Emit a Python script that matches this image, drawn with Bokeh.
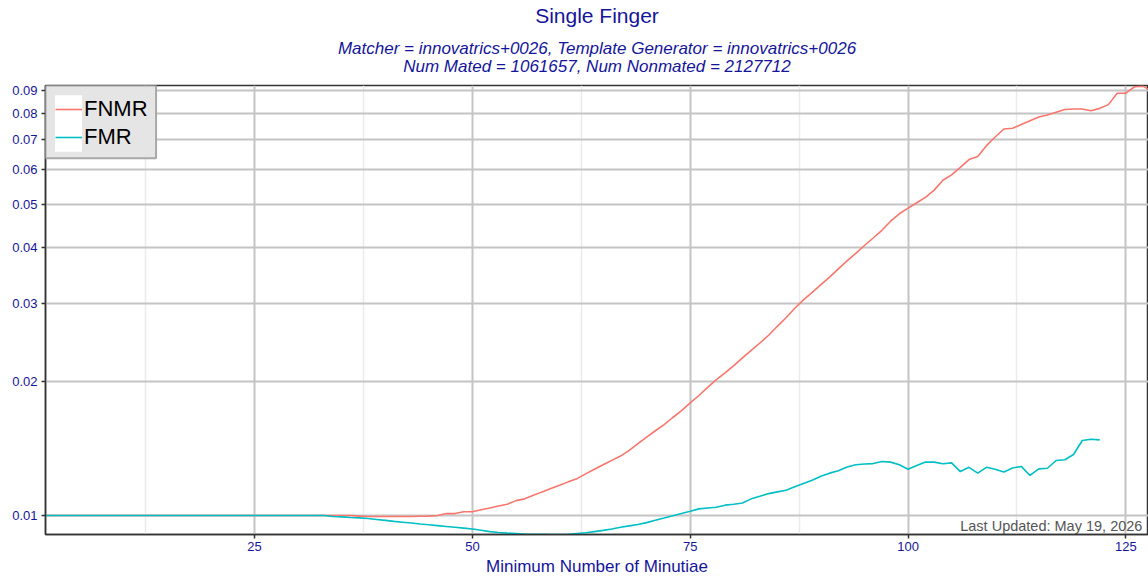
from bokeh.plotting import figure
from bokeh.models import (Range1d, FixedTicker, PrintfTickFormatter, Title, Legend, LegendItem,
                          Label, BoxAnnotation)
from bokeh.embed import file_html
from bokeh.resources import INLINE

# ---------------- data ----------------
min_minutiae = list(range(1, 129))
fnmr = [
    0.0100, 0.0100, 0.0100, 0.0100, 0.0100, 0.0100, 0.0100, 0.0100, 0.0100, 0.0100,
    0.0100, 0.0100, 0.0100, 0.0100, 0.0100, 0.0100, 0.0100, 0.0100, 0.0100, 0.0100,
    0.0100, 0.0100, 0.0100, 0.0100, 0.0100, 0.0100, 0.0100, 0.0100, 0.0100, 0.0100,
    0.0100, 0.0100, 0.0100, 0.0100, 0.0100, 0.0100, 0.00997, 0.00995, 0.00995, 0.00995,
    0.00995, 0.00995, 0.00995, 0.00996, 0.00997, 0.0100, 0.0101, 0.0101, 0.0102, 0.0102,
    0.0103, 0.0104, 0.0105, 0.0106, 0.0108, 0.0109, 0.0111, 0.0113, 0.0115, 0.0117,
    0.0119, 0.0121, 0.0124, 0.0127, 0.0130, 0.0133, 0.0136, 0.0140, 0.0145, 0.0150,
    0.0155, 0.0160, 0.0166, 0.0172, 0.0179, 0.0186, 0.0194, 0.0202, 0.0209, 0.0217,
    0.0226, 0.0235, 0.0244, 0.0254, 0.0266, 0.0278, 0.0292, 0.0305, 0.0317, 0.0330,
    0.0343, 0.0358, 0.0373, 0.0388, 0.0404, 0.0420, 0.0437, 0.0458, 0.0476, 0.0490,
    0.0504, 0.0518, 0.0538, 0.0566, 0.0582, 0.0605, 0.0630, 0.0640, 0.0677, 0.0708,
    0.0738, 0.0741, 0.0755, 0.0770, 0.0785, 0.0793, 0.0805, 0.0816, 0.0818, 0.0818,
    0.0811, 0.0821, 0.0837, 0.0888, 0.0888, 0.0918, 0.0921, 0.0895,
]
fmr_minutiae = list(range(1, 123))
fmr = [
    0.0100, 0.0100, 0.0100, 0.0100, 0.0100, 0.0100, 0.0100, 0.0100, 0.0100, 0.0100,
    0.0100, 0.0100, 0.0100, 0.0100, 0.0100, 0.0100, 0.0100, 0.0100, 0.0100, 0.0100,
    0.0100, 0.0100, 0.0100, 0.0100, 0.0100, 0.0100, 0.0100, 0.0100, 0.0100, 0.0100,
    0.0100, 0.0100, 0.0100, 0.00995, 0.00993, 0.0099, 0.00988, 0.00985, 0.0098, 0.00975,
    0.0097, 0.00966, 0.00962, 0.00957, 0.00953, 0.00949, 0.00945, 0.00941, 0.00937, 0.00933,
    0.00927, 0.0092, 0.00916, 0.00913, 0.00911, 0.00909, 0.00908, 0.00907, 0.00906, 0.00906,
    0.00907, 0.00911, 0.00915, 0.0092, 0.00926, 0.00933, 0.00941, 0.00948, 0.00955, 0.00964,
    0.00976, 0.00987, 0.00999, 0.0101, 0.01022, 0.01035, 0.0104, 0.01044, 0.01055, 0.0106,
    0.01067, 0.0109, 0.01105, 0.0112, 0.0113, 0.0114, 0.0116, 0.0118, 0.0120, 0.01225,
    0.01245, 0.0126, 0.01285, 0.0130, 0.01305, 0.01308, 0.01322, 0.01318, 0.0130, 0.0127,
    0.01295, 0.01318, 0.01318, 0.01307, 0.01313, 0.01255, 0.01283, 0.01245, 0.01283, 0.0127,
    0.01253, 0.01279, 0.01289, 0.0123, 0.01273, 0.01277, 0.01329, 0.01334, 0.01371, 0.01474,
    0.01484, 0.01479,
]
x_ticks = [25, 50, 75, 100, 125]
x_minor = [12.5, 37.5, 62.5, 87.5, 112.5]
y_ticks = [0.01, 0.02, 0.03, 0.04, 0.05, 0.06, 0.07, 0.08, 0.09]

title_text = "Single Finger"
subtitle_text = ("Matcher = innovatrics+0026, Template Generator = innovatrics+0026\n"
                 "Num Mated = 1061657, Num Nonmated = 2127712")
x_label = "Minimum Number of Minutiae"
updated_text = "Last Updated: May 19, 2026"

# ---------------- figure ----------------
FONT = "Liberation Sans"
BLUE = "#15159a"

p = figure(width=1148, height=578, output_backend="svg", toolbar_location=None,
           y_axis_type="log",
           x_range=Range1d(1, 127.6), y_range=Range1d(0.009065, 0.0924),
           min_border_left=45, min_border_right=0, min_border_top=85, min_border_bottom=44)
p.title.visible = False
p.background_fill_color = "white"
p.border_fill_color = "white"
p.outline_line_color = "#333333"
p.outline_line_width = 1.5

sub = Title(text=subtitle_text, align="center", text_font=FONT, text_font_size="17px",
            text_font_style="italic", text_color=BLUE, standoff=18,
            text_line_height=0.96)
try:
    sub.text_align = "center"
except Exception:
    pass
p.add_layout(sub, "above")
p.add_layout(Title(text=title_text, align="center", text_font=FONT, text_font_size="21px",
                   text_font_style="normal", text_color=BLUE, standoff=3), "above")

# axes
p.xaxis.ticker = FixedTicker(ticks=x_ticks, minor_ticks=x_minor)
p.yaxis.ticker = FixedTicker(ticks=y_ticks, minor_ticks=[])
p.yaxis.formatter = PrintfTickFormatter(format="%.2f")
p.xaxis.axis_label = x_label
for ax in (p.xaxis, p.yaxis):
    ax.axis_line_color = "#333333"
    ax.axis_line_width = 1.5
    ax.major_tick_line_color = "#333333"
    ax.major_tick_line_width = 1.5
    ax.major_tick_out = 4
    ax.major_tick_in = 0
    ax.minor_tick_line_color = None
    ax.major_label_text_font = FONT
    ax.major_label_text_font_size = "13px"
    ax.major_label_text_color = BLUE
    ax.major_label_standoff = 4
p.xaxis.axis_label_text_font = FONT
p.xaxis.axis_label_text_font_size = "17px"
p.xaxis.axis_label_text_font_style = "normal"
p.xaxis.axis_label_text_color = BLUE
p.xaxis.axis_label_standoff = 3
p.xaxis.major_label_standoff = 3

# grids
p.xgrid.grid_line_color = "#c4c4c4"
p.xgrid.grid_line_width = 2
p.xgrid.minor_grid_line_color = "#ebebeb"
p.xgrid.minor_grid_line_width = 1.5
p.ygrid.grid_line_color = "#c4c4c4"
p.ygrid.grid_line_width = 2
p.ygrid.minor_grid_line_color = None

# lines
r1 = p.line(min_minutiae, fnmr, line_color="#F8766D", line_width=1.6)
r2 = p.line(fmr_minutiae, fmr, line_color="#00BFC4", line_width=1.6)

# legend box (grey panel + white key area, ggplot style), then transparent legend on top
p.add_layout(BoxAnnotation(left=1, right=13.69, top=0.0924, bottom=0.0634,
                           fill_color="#e5e5e5", fill_alpha=1,
                           line_color="#a8a8a8", line_width=2, line_alpha=1))
p.add_layout(BoxAnnotation(left=2.09, right=5.19, top=0.0879, bottom=0.0656,
                           fill_color="white", fill_alpha=1, line_color=None))

legend = Legend(items=[LegendItem(label="FNMR", renderers=[r1]),
                       LegendItem(label="FMR", renderers=[r2])],
                location="top_left", orientation="vertical")
legend.margin = 10
legend.padding = 0
legend.spacing = 0
legend.glyph_width = 27
legend.glyph_height = 28
legend.label_height = 28
legend.label_standoff = 2
legend.label_text_font = FONT
legend.label_text_font_size = "22px"
legend.label_text_color = "black"
legend.background_fill_alpha = 0
legend.border_line_color = None
p.add_layout(legend, "center")

p.add_layout(Label(x=126.9, y=0.00945, text=updated_text, text_align="right",
                   text_baseline="middle", text_font=FONT, text_font_size="14.5px",
                   text_color="#555555"))

open("out.html", "w").write(file_html(p, INLINE))
